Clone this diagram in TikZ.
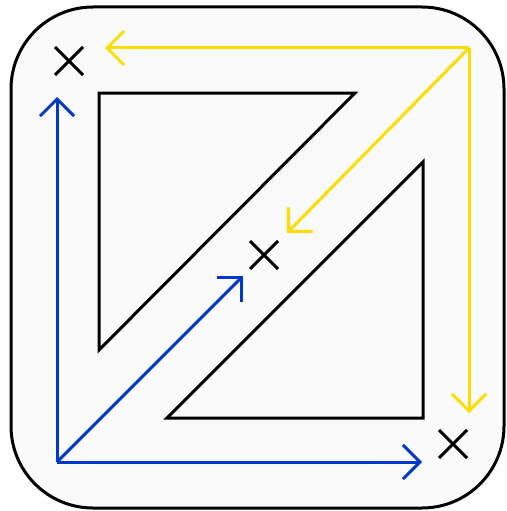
\documentclass[tikz,border=0pt]{standalone}
\usepackage{amsmath,amssymb}
\usepackage{tikz}
\usetikzlibrary{arrows.meta,shapes.misc}
\definecolor{pathblue}{RGB}{0,56,204}
\definecolor{pathyellow}{RGB}{255,221,0}
\definecolor{panel}{RGB}{250,250,250}

\begin{document}
\begin{tikzpicture}[x=1pt,y=-1pt]
        \tikzset{Mark/.style={cross out, draw=black, line width=3pt,
                minimum size=28pt, inner sep=0pt, outer sep=0pt},
                Wall/.style={draw=black, line width=3pt, line join=miter},
                Move/.style={line width=3pt,
                -{Straight Barb[length=17pt,width=34pt,line width=3pt]}}}
        \useasboundingbox (0,0) rectangle (506,511);
        \draw[line width=3pt, fill=panel, rounded corners=82pt]
                (11,7) rectangle (504,508);
        \draw[Wall] (99,93) -- (355,93) -- (99,350) -- cycle;
        \draw[Wall] (423,162) -- (423,418) -- (167,418) -- cycle;
        \node[Mark] (A) at (69,61) {};
        \node[Mark] (B) at (264,255) {};
        \node[Mark] (C) at (453,444) {};
        \coordinate (O) at (57,462);
        \coordinate (Y) at (469,48);
        \coordinate (OA) at (57,97);
        \coordinate (OB) at (243,276);
        \coordinate (OC) at (422,462);
        \coordinate (YA) at (105,48);
        \coordinate (YB) at (287,233);
        \coordinate (YC) at (469,413);
        \draw[Move, pathblue] (O) -- (OA);
        \draw[Move, pathblue] (O) -- (OB);
        \draw[Move, pathblue] (O) -- (OC);
        \draw[Move, pathyellow] (Y) -- (YA);
        \draw[Move, pathyellow] (Y) -- (YB);
        \draw[Move, pathyellow] (Y) -- (YC);
    \end{tikzpicture}
\end{document}
